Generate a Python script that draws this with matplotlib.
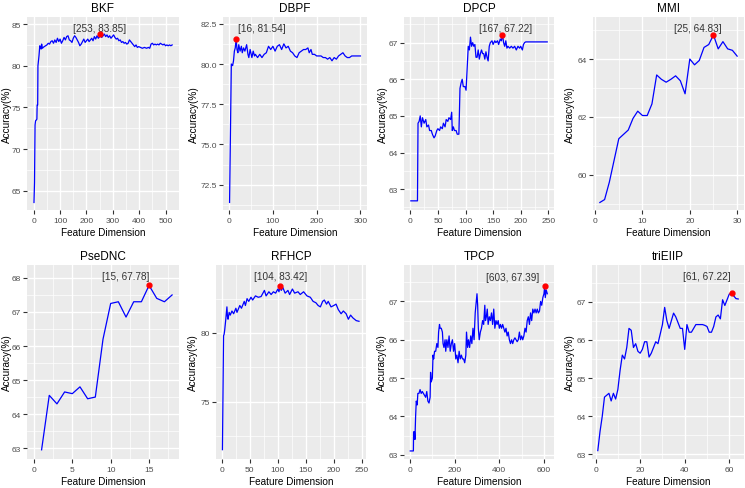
import matplotlib.pyplot as plt
from matplotlib.ticker import MultipleLocator

plt.rcParams['font.family'] = ['Liberation Sans', 'DejaVu Sans']

# ---- data ----
bkf_x = [1, 3, 5, 7, 10, 12, 13, 15, 16, 18, 20, 23, 25, 28, 30, 33, 36, 40, 45, 50, 55, 60, 65, 70,
         75, 80, 85, 90, 95, 100, 105, 110, 115, 120, 125, 130, 135, 140, 145, 150, 155, 160, 165,
         170, 175, 180, 185, 190, 195, 200, 205, 210, 215, 220, 225, 230, 235, 240, 245, 250, 253,
         258, 263, 268, 273, 278, 283, 288, 293, 298, 303, 308, 313, 318, 323, 328, 333, 338, 343,
         348, 353, 358, 363, 368, 373, 378, 383, 388, 393, 398, 405, 412, 420, 428, 435, 440, 445,
         450, 455, 460, 465, 470, 475, 480, 485, 490, 495, 500, 505, 510, 515, 520, 525]
bkf_y = [63.6, 66.0, 72.9, 73.4, 73.5, 73.6, 75.3, 75.3, 80.0, 80.6, 81.2, 82.4, 82.3, 82.0, 82.6, 82.1,
         82.2, 82.3, 82.4, 82.5, 82.7, 82.6, 82.9, 83.0, 82.7, 83.1, 82.8, 83.3, 82.9, 83.2, 82.7,
         83.0, 83.4, 83.1, 83.5, 83.6, 83.1, 83.0, 82.8, 83.3, 83.6, 83.4, 83.1, 82.8, 82.4, 82.6,
         82.9, 83.2, 82.8, 83.0, 83.2, 82.9, 83.1, 83.3, 83.0, 83.5, 83.2, 83.6, 83.3, 83.5, 83.85,
         83.4, 83.6, 83.8, 83.5, 83.7, 83.4, 83.6, 83.3, 83.5, 83.7, 83.4, 83.2, 83.3, 83.0, 83.1,
         82.8, 82.9, 82.7, 82.8, 82.6, 82.7, 83.1, 82.9, 82.7, 82.5, 82.3, 82.5, 82.2, 82.3, 82.2,
         82.1, 82.2, 82.1, 82.2, 82.1, 82.6, 82.7, 82.5, 82.6, 82.5, 82.6, 82.5, 82.7, 82.6, 82.5,
         82.6, 82.4, 82.5, 82.4, 82.5, 82.4, 82.5]

dbpf_x = [1, 3, 5, 8, 10, 12, 14, 16, 18, 20, 22, 25, 28, 30, 33, 36, 40, 43, 45, 48, 52, 55, 58, 60,
          65, 70, 75, 80, 85, 90, 95, 100, 105, 110, 115, 120, 125, 130, 135, 140, 145, 150, 155,
          160, 165, 170, 175, 180, 183, 187, 190, 195, 200, 205, 210, 215, 220, 225, 230, 235, 240,
          245, 250, 255, 260, 265, 270, 275, 280, 285, 290, 295, 300]
dbpf_y = [71.4, 75.7, 80.0, 79.9, 80.2, 80.8, 81.0, 81.54, 80.9, 80.7, 81.2, 80.8, 81.1, 80.7, 81.0,
          80.8, 81.2, 80.6, 80.4, 80.9, 80.4, 80.8, 80.5, 80.6, 80.4, 80.6, 80.4, 80.6, 80.7, 81.1,
          80.9, 81.1, 80.8, 81.1, 81.2, 80.9, 81.25, 81.0, 81.1, 80.8, 80.7, 80.5, 80.4, 80.7, 80.8,
          80.9, 80.9, 81.0, 80.7, 80.9, 80.6, 80.6, 80.5, 80.5, 80.5, 80.4, 80.4, 80.3, 80.4, 80.2,
          80.4, 80.3, 80.5, 80.6, 80.7, 80.5, 80.4, 80.4, 80.5, 80.5, 80.5, 80.5, 80.5]

dpcp_x = [1, 13, 14, 16, 18, 20, 22, 25, 28, 30, 33, 35, 38, 40, 43, 45, 48, 50, 53, 55, 58, 60, 63,
          65, 68, 70, 73, 75, 76, 78, 80, 83, 85, 88, 89, 90, 92, 94, 96, 99, 101, 103, 105, 107,
          109, 111, 113, 115, 117, 119, 121, 123, 125, 127, 129, 131, 133, 135, 137, 139, 141, 143,
          145, 148, 150, 153, 155, 158, 160, 163, 165, 167, 169, 171, 173, 175, 177, 180, 183, 186,
          189, 192, 195, 198, 200, 203, 205, 207, 209, 248]
dpcp_y = [62.68, 62.68, 64.8, 64.85, 65.0, 64.7, 64.95, 64.8, 64.9, 64.7, 64.75, 64.6, 64.6, 64.5,
          64.4, 64.45, 64.6, 64.65, 64.6, 64.7, 64.65, 64.8, 64.7, 64.9, 64.85, 64.95, 64.9, 65.1,
          64.6, 64.7, 64.6, 64.6, 64.5, 64.5, 65.1, 65.75, 65.9, 66.0, 65.8, 65.8, 65.7, 66.3, 66.9,
          66.8, 67.15, 66.9, 67.0, 66.9, 66.95, 66.6, 66.6, 66.8, 66.55, 66.7, 66.8, 66.7, 66.7,
          66.55, 66.75, 66.6, 66.5, 66.9, 67.0, 67.05, 66.95, 67.05, 67.0, 67.05, 66.95, 67.1,
          67.05, 67.22, 67.0, 66.9, 67.05, 66.85, 66.9, 66.85, 66.9, 66.85, 66.9, 66.8, 66.9, 66.85,
          66.9, 66.8, 66.95, 67.0, 67.02, 67.02]

mmi_x = list(range(1, 31))
mmi_y = [59.05, 59.15, 59.75, 60.5, 61.25, 61.4, 61.55, 61.95, 62.2, 62.05, 62.05, 62.45, 63.45,
         63.3, 63.2, 63.3, 63.42, 63.25, 62.8, 64.0, 63.8, 63.95, 64.4, 64.5, 64.83, 64.35, 64.6,
         64.35, 64.3, 64.1]

psednc_x = list(range(1, 19))
psednc_y = [62.95, 64.55, 64.3, 64.65, 64.6, 64.8, 64.45, 64.5, 66.2, 67.25, 67.3, 66.85, 67.3, 67.3,
            67.78, 67.4, 67.3, 67.5]

rfhcp_x = [1, 2, 3, 4, 5, 7, 9, 10, 11, 13, 15, 18, 21, 25, 27, 32, 35, 40, 42, 45, 48, 52, 55, 60,
           65, 70, 76, 79, 84, 88, 92, 96, 100, 102, 104, 106, 109, 113, 118, 121, 126, 130, 136,
           140, 146, 152, 158, 163, 168, 172, 176, 180, 183, 187, 190, 195, 200, 204, 208, 213, 217,
           222, 226, 230, 234, 240, 245]
rfhcp_y = [71.5, 75.7, 79.8, 79.9, 80.2, 81.0, 81.9, 81.2, 81.0, 81.5, 81.3, 81.6, 81.4, 81.8, 81.5,
           82.0, 81.8, 82.3, 82.0, 82.5, 82.3, 82.6, 82.4, 82.7, 82.6, 82.65, 83.1, 82.7, 83.0, 82.8,
           83.0, 82.9, 83.2, 83.0, 83.42, 83.1, 83.3, 82.9, 83.1, 82.8, 83.2, 82.9, 83.0, 82.8, 83.0,
           82.7, 82.6, 82.3, 82.2, 82.0, 81.9, 82.3, 82.4, 82.1, 82.3, 81.9, 82.0, 82.1, 81.7, 81.4,
           81.6, 81.4, 81.0, 81.3, 81.1, 80.9, 80.85]

tpcp_x = [1, 15, 16, 20, 22, 25, 28, 32, 35, 40, 45, 50, 55, 60, 65, 70, 75, 80, 85, 90, 92, 95, 100,
          103, 106, 110, 115, 120, 125, 128, 132, 135, 140, 145, 148, 152, 157, 160, 165, 170, 175,
          180, 185, 190, 195, 200, 205, 210, 215, 220, 225, 230, 235, 240, 245, 250, 253, 258, 262,
          267, 272, 277, 282, 287, 292, 297, 300, 303, 306, 310, 315, 320, 325, 330, 335, 338, 342,
          346, 350, 355, 360, 365, 370, 375, 380, 385, 390, 395, 400, 405, 410, 415, 420, 425, 430,
          435, 440, 445, 450, 455, 460, 465, 470, 475, 480, 485, 490, 495, 500, 505, 510, 515, 520,
          525, 530, 535, 540, 545, 550, 555, 560, 565, 570, 575, 580, 585, 590, 595, 600, 603, 606,
          610, 615]
tpcp_y = [63.1, 63.1, 63.6, 63.6, 63.4, 64.0, 64.4, 64.3, 64.6, 64.6, 64.7, 64.6, 64.65, 64.6, 64.55,
          64.5, 64.65, 64.4, 64.35, 64.5, 65.15, 64.9, 65.0, 65.6, 65.5, 65.7, 65.7, 65.9, 65.8, 66.2,
          66.4, 66.3, 66.3, 66.2, 65.9, 65.8, 66.0, 65.7, 66.0, 65.8, 66.1, 65.7, 65.9, 66.0, 65.7,
          65.9, 65.5, 65.6, 65.4, 65.7, 65.5, 65.6, 65.5, 65.5, 65.4, 65.6, 66.2, 65.8, 66.0, 65.8,
          66.1, 65.9, 66.3, 66.0, 66.7, 67.0, 67.2, 66.9, 66.3, 66.0, 66.2, 66.3, 66.5, 66.4, 66.9,
          66.5, 66.6, 66.8, 66.4, 66.6, 66.5, 66.7, 66.4, 66.8, 66.3, 66.5, 66.4, 66.5, 66.3, 66.4,
          66.3, 66.4, 66.3, 66.2, 66.3, 66.1, 66.2, 66.0, 65.9, 66.0, 65.9, 66.0, 66.05, 66.0,
          65.95, 66.0, 66.2, 66.0, 66.1, 66.0, 66.1, 66.3, 66.2, 66.5, 66.6, 66.4, 66.7, 66.5, 66.8,
          66.7, 66.8, 66.7, 66.8, 66.7, 66.75, 67.0, 66.9, 67.1, 67.2, 67.39, 67.1, 67.3, 67.2]

trieiip_x = list(range(1, 65))
trieiip_y = [63.1, 63.6, 64.0, 64.5, 64.55, 64.6, 64.4, 64.6, 64.45, 64.7, 65.2, 65.6, 65.5, 65.8,
             66.3, 66.25, 65.8, 65.9, 65.7, 65.65, 65.75, 65.95, 65.95, 65.55, 65.65, 65.8, 65.95,
             65.9, 66.15, 66.4, 66.85, 66.5, 66.3, 66.5, 66.7, 66.6, 66.45, 66.3, 66.3, 65.75, 66.4,
             66.2, 66.2, 66.3, 66.4, 66.4, 66.4, 66.4, 66.38, 66.35, 66.2, 66.2, 66.35, 66.6, 66.65,
             66.55, 67.05, 66.9, 67.05, 67.2, 67.22, 67.15, 67.08, 67.07]

names = ['BKF', 'DBPF', 'DPCP', 'MMI', 'PseDNC', 'RFHCP', 'TPCP', 'triEIIP']
xs = [bkf_x, dbpf_x, dpcp_x, mmi_x, psednc_x, rfhcp_x, tpcp_x, trieiip_x]
ys = [bkf_y, dbpf_y, dpcp_y, mmi_y, psednc_y, rfhcp_y, tpcp_y, trieiip_y]
best_x = [253, 16, 167, 25, 15, 104, 603, 61]
best_y = [83.85, 81.54, 67.22, 64.83, 67.78, 83.42, 67.39, 67.22]
x_steps = [100, 100, 50, 10, 5, 50, 200, 20]
y_steps = [5, 2.5, 1, 2, 1, 5, 1, 1]
y_fmt = ['%d', '%.1f', '%d', '%d', '%d', '%d', '%d', '%d']

# layout (pixels: left, top, right, bottom), axis ranges and label spots
rects = [(27, 18, 179, 211), (223, 18, 367, 211), (404, 18, 554, 211), (593, 18, 744, 211),
         (27, 266, 179, 460), (216, 266, 366, 460), (404, 266, 554, 460), (592, 266, 744, 460)]
ylab_px = [6.5, 194, 383, 570, 6.5, 193, 382, 570]
xlims = [(-25.5, 551), (-14, 315), (-11.4, 260.3), (-0.45, 31.45), (-0.9, 18.9), (-10.5, 257.5),
         (-27, 645), (-1.6, 66.6)]
ylims = [(62.7, 85.85), (70.93, 82.92), (62.43, 67.7), (58.79, 65.45), (62.68, 68.38),
         (70.82, 84.95), (62.89, 67.95), (62.88, 67.96)]
lab_pos = [(249, 84.52), (74.6, 82.25), (171.7, 67.39), (21.6, 65.06), (11.9, 68.05),
           (104.3, 84.13), (461, 67.65), (50.1, 67.66)]

W, H = 745, 489
fig = plt.figure(figsize=(W / 100, H / 100), dpi=100)
fig.patch.set_facecolor('white')

for i in range(8):
    l, t, r, b = rects[i]
    ax = fig.add_axes([l / W, 1 - b / H, (r - l) / W, (b - t) / H])
    ax.set_facecolor('#EBEBEB')
    ax.plot(xs[i], ys[i], color='blue', lw=0.9)
    ax.plot(best_x[i], best_y[i], 'o', color='red', ms=3.5, zorder=5)
    ax.text(lab_pos[i][0], lab_pos[i][1], '[%d, %.2f]' % (best_x[i], best_y[i]),
            ha='center', va='center', fontsize=7.2, color='#333333')
    ax.set_xlim(*xlims[i])
    ax.set_ylim(*ylims[i])
    ax.xaxis.set_major_locator(MultipleLocator(x_steps[i]))
    ax.yaxis.set_major_locator(MultipleLocator(y_steps[i]))
    ax.xaxis.set_minor_locator(MultipleLocator(x_steps[i] / 2))
    ax.yaxis.set_minor_locator(MultipleLocator(y_steps[i] / 2))
    ax.yaxis.set_major_formatter(plt.FormatStrFormatter(y_fmt[i]))
    ax.grid(which='major', color='white', lw=1.0)
    ax.grid(which='minor', color='white', lw=0.5)
    ax.set_axisbelow(True)
    for s in ax.spines.values():
        s.set_visible(False)
    ax.tick_params(which='major', length=3, width=0.8, color='#333333', labelcolor='#4D4D4D',
                   labelsize=6, pad=2)
    ax.tick_params(axis='y', which='major', pad=1.5)
    ax.tick_params(which='minor', length=0)
    ax.set_title(names[i], fontsize=8.5, color='black', pad=4)
    ax.set_xlabel('Feature Dimension', fontsize=7.2, labelpad=2)
    ax.set_ylabel('Accuracy(%)', fontsize=7.2, va='center')
    ax.yaxis.set_label_coords((ylab_px[i] - l) / (r - l), 0.5)

fig.savefig('out.png', dpi=100)
